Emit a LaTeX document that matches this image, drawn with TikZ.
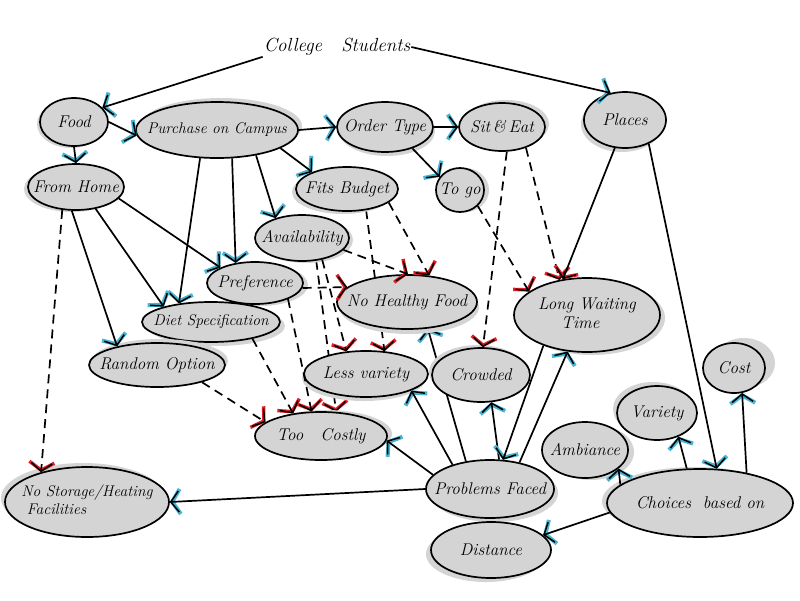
\documentclass[tikz,border=0pt]{standalone}
\usetikzlibrary{shapes.geometric,arrows.meta,shadows}
\definecolor{nodegrey}{RGB}{212,212,212}
\definecolor{tipblue}{RGB}{70,180,210}
\definecolor{tipred}{RGB}{225,30,40}
\pgfdeclarelayer{paper}
\pgfdeclarelayer{bg}
\pgfsetlayers{paper,bg,main}
\newcommand{\ntxt}[1]{\makebox[0pt]{#1}}
\newcommand{\ntwo}[2]{\makebox[0pt]{\begin{tabular}{@{}l@{}}#1\\#2\end{tabular}}}
\tikzset{
  nd/.style 2 args={ellipse, draw=black, line width=1.7pt, fill=nodegrey, inner sep=0pt,
    font=\fontsize{17}{19}\selectfont\itshape,
    drop shadow={shadow xshift=#1, shadow yshift=#2, fill=nodegrey, opacity=1}},
  smallt/.style={font=\fontsize{15.5}{18}\selectfont\itshape},
  conn/.style={line width=1.7pt, draw=black},
  sb/.style={conn, -{Straight Barb[length=8pt,width=21pt,line width=1.5pt]},
    preaction={draw=tipblue, dash pattern=on 0pt off 10000pt, line cap=butt,
      -{Straight Barb[length=8pt,width=25pt,line width=4pt]}}},
  sr/.style={conn, -{Straight Barb[length=8pt,width=21pt,line width=1.5pt]},
    preaction={draw=tipred, dash pattern=on 0pt off 10000pt, line cap=butt,
      -{Straight Barb[length=8pt,width=25pt,line width=3.4pt]}}},
  db/.style={sr, dash pattern=on 9pt off 6pt},
}
\begin{document}
\begin{tikzpicture}[x=1pt,y=-1pt]
\begin{pgfonlayer}{paper}
\fill[white] (0,0) rectangle (800,600);
\end{pgfonlayer}
\useasboundingbox (0,0) rectangle (800,600);

% title
\node[inner sep=1pt, font=\fontsize{19}{22}\selectfont\itshape] (cs) at (337,47) {College\quad Students};

% nodes
\node[nd={-3pt}{-2pt}, minimum width=68pt, minimum height=48pt] (food) at (74,122) {\ntxt{Food}};
\node[nd={4pt}{4pt}, smallt, minimum width=162pt, minimum height=56pt] (purchase) at (217,130) {\ntxt{Purchase on Campus}};
\node[nd={2pt}{-4pt}, minimum width=96pt, minimum height=50pt] (order) at (385,127) {\ntxt{Order Type}};
\node[nd={4pt}{3pt}, minimum width=86pt, minimum height=48pt] (siteat) at (502,127) {\ntxt{Sit\,\&\,Eat}};
\node[nd={-3pt}{-4pt}, minimum width=82pt, minimum height=56pt] (places) at (625,120) {\ntxt{Places}};
\node[nd={-4pt}{-2pt}, minimum width=96pt, minimum height=46pt] (home) at (76,187) {\ntxt{From Home}};
\node[nd={-4pt}{-3pt}, minimum width=102pt, minimum height=44pt] (budget) at (347,189) {\ntxt{Fits Budget}};
\node[nd={5pt}{0pt}, minimum width=48pt, minimum height=44pt] (togo) at (460,190) {\ntxt{To go}};
\node[nd={4pt}{-2pt}, minimum width=94pt, minimum height=46pt] (avail) at (302,238) {\ntxt{Availability}};
\node[nd={5pt}{-2pt}, minimum width=96pt, minimum height=42pt] (pref) at (255,283) {\ntxt{Preference}};
\node[nd={5pt}{-4pt}, smallt, minimum width=138pt, minimum height=40pt] (diet) at (211,322) {\ntxt{Diet Specification}};
\node[nd={3pt}{4pt}, minimum width=136pt, minimum height=44pt] (random) at (157,365) {\ntxt{Random Option}};
\node[nd={2pt}{-5pt}, minimum width=140pt, minimum height=54pt] (nohealthy) at (407,302) {\ntxt{No Healthy Food}};
\node[nd={5pt}{-3pt}, minimum width=146pt, minimum height=74pt] (lwt) at (587,315) {\ntwo{Long Waiting}{\quad\ Time}};
\node[nd={-2pt}{-4pt}, minimum width=124pt, minimum height=46pt] (less) at (366,374) {\ntxt{Less variety}};
\node[nd={-3pt}{3pt}, minimum width=98pt, minimum height=54pt] (crowded) at (481,375) {\ntxt{Crowded}};
\node[nd={10pt}{5pt}, minimum width=62pt, minimum height=50pt] (cost) at (734,368) {\ntxt{Cost}};
\node[nd={-4pt}{4pt}, minimum width=80pt, minimum height=54pt] (variety) at (657,413) {\ntxt{Variety}};
\node[nd={5pt}{2pt}, minimum width=132pt, minimum height=48pt] (toocostly) at (321,436) {\ntxt{Too\quad Costly}};
\node[nd={6pt}{-2pt}, minimum width=86pt, minimum height=56pt] (ambiance) at (585,450) {\ntxt{Ambiance}};
\node[nd={4pt}{-4pt}, minimum width=128pt, minimum height=58pt] (problems) at (490,489) {\ntxt{Problems Faced}};
\node[nd={-4pt}{4pt}, smallt, minimum width=164pt, minimum height=70pt] (nostorage) at (87,502) {\ntwo{No Storage/Heating}{\ Facilities}};
\node[nd={-5pt}{2pt}, minimum width=186pt, minimum height=68pt] (choices) at (700,503) {\ntxt{Choices \ based on}};
\node[nd={-5pt}{-4pt}, minimum width=120pt, minimum height=56pt] (distance) at (491,550) {\ntxt{Distance}};

% connectors passing behind nodes
\begin{pgfonlayer}{bg}
\draw[db] (budget.-48) -- (less.51);
\draw[db] (avail.-58) -- (toocostly.58);
\draw[sb] (problems.131) -- (nohealthy.-52);
\end{pgfonlayer}

% connectors
\draw[sb] (cs.south west) -- (food.27);
\draw[sb] (cs.east) -- (places.118);
\draw[sb] (food.0) -- (purchase.184);
\draw[sb] (food.south) -- (home.north);
\draw[sb] (purchase.east) -- (order.west);
\draw[sb] (order.east) -- (siteat.west);
\draw[sb] (order.-38) -- (togo.147);
\draw[sb] (purchase.-16) -- (budget.154);
\draw[sb] (purchase.-33) -- (avail.143);
\draw[sb] (purchase.-62) -- (pref.134);
\draw[sb] (purchase.-121) -- (diet.150);
\draw[sb] (home.-15) -- (pref.156);
\draw[sb] (home.-48) -- (diet.162);
\draw[sb] (home.-100) -- (random.155);
\draw[db] (home.-121) -- (nostorage.147);
\draw[db] (budget.-18) -- (nohealthy.50);
\draw[db] (avail.-16) -- (nohealthy.88);
\draw[db] (avail.-47) -- (less.131);
\draw[db] (pref.-6) -- (nohealthy.166);
\draw[db] (pref.-26) -- (toocostly.111);
\draw[db] (diet.-22) -- (toocostly.141);
\draw[db] (random.-21) -- (toocostly.166);
\draw[db] (siteat.-79) -- (crowded.86);
\draw[db] (siteat.-41) -- (lwt.128);
\draw[db] (togo.-42) -- (lwt.158);
\draw[sr] (places.-110) -- (lwt.124);
\draw[sb] (places.-45) -- (choices.64);
\draw[sb] (problems.166) -- (toocostly.-4);
\draw[sb] (problems.west) -- (nostorage.east);
\draw[sb] (problems.147) -- (less.-20);
\draw[sb] (problems.73) -- (crowded.-69);
\draw[sb] (lwt.-145) -- (problems.66);
\draw[sb] (problems.42) -- (lwt.-118);
\draw[sb] (choices.167) -- (ambiance.-29);
\draw[sb] (choices.111) -- (variety.-48);
\draw[sb] (choices.33) -- (cost.-72);
\draw[sb] (choices.186) -- (distance.16);
\end{tikzpicture}
\end{document}
